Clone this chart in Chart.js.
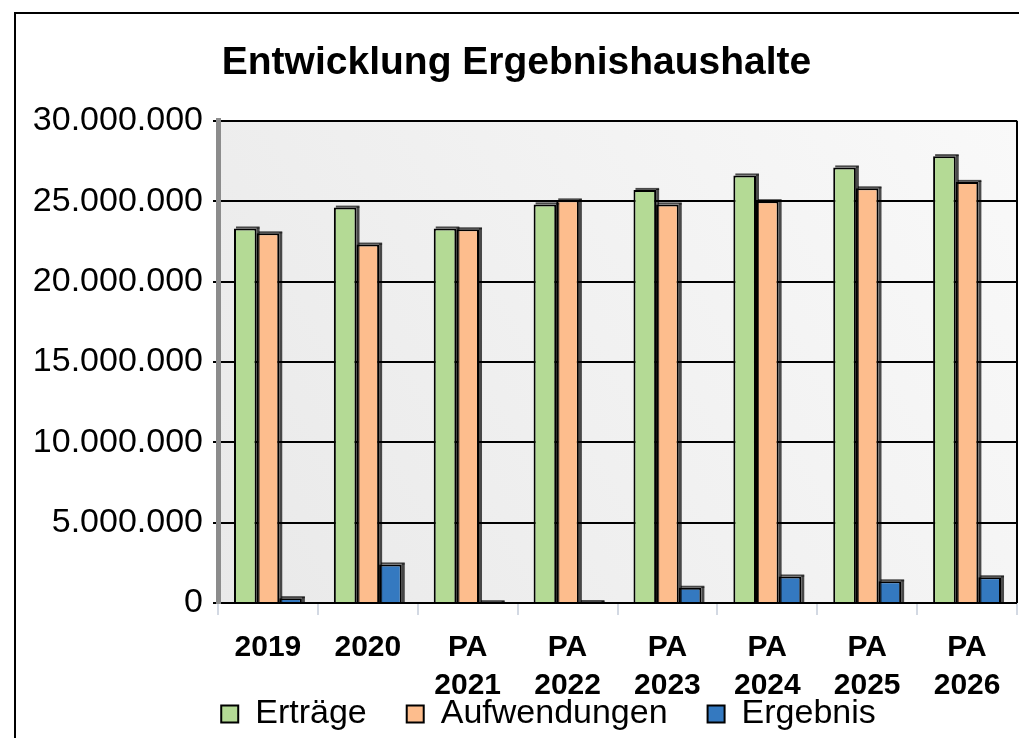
<!DOCTYPE html>
<html>
<head>
<meta charset="utf-8">
<script src="https://cdn.jsdelivr.net/npm/chart.js@4/dist/chart.umd.min.js"></script>
<style>
  html, body { margin: 0; padding: 0; background: #fff; overflow: hidden; }
  #frame {
    position: absolute; left: 14px; top: 12px;
    width: 1005px; height: 726px;
    border-left: 2px solid #000; border-top: 2px solid #000;
  }
  canvas { display: block; }
</style>
</head>
<body>
<div id="frame"><canvas id="chart" width="1003" height="724"></canvas></div>
<script>
// data
const categories = [['2019'], ['2020'], ['PA', '2021'], ['PA', '2022'], ['PA', '2023'], ['PA', '2024'], ['PA', '2025'], ['PA', '2026']];
const ertraege      = [23300000, 24600000, 23300000, 24800000, 25700000, 26600000, 27100000, 27800000];
const aufwendungen  = [23000000, 22300000, 23250000, 25050000, 24800000, 25000000, 25800000, 26200000];
const ergebnis      = [300000, 2400000, 50000, 60000, 950000, 1650000, 1350000, 1600000];
const yTicks = [0, 5000000, 10000000, 15000000, 20000000, 25000000, 30000000];

const fontFam = '"Liberation Sans", Arial, sans-serif';
const legendPad = 40;

function dots(v) {
  return String(v).replace(/\B(?=(\d{3})+(?!\d))/g, '.');
}

// plot background, right border, 3D-ish bar sides, layout nudges
const plotBg = {
  id: 'plotBg',
  afterLayout(chart) {
    const lg = chart.legend;
    // legend text centre at y=700 of the canvas, shifted a bit right
    lg.top = 700 - legendPad - 17;
    lg.bottom = chart.height;
    lg.left += 32;
    lg.right += 32;
    // let the two-line x labels run below their box
    chart.scales.x.bottom = chart.height;
  },
  beforeDraw(chart) {
    const { ctx, chartArea: a } = chart;
    const g = ctx.createLinearGradient(a.left, a.bottom, a.right, a.top);
    g.addColorStop(0, '#e9e9e9');
    g.addColorStop(1, '#f9f9f9');
    ctx.save();
    ctx.fillStyle = g;
    ctx.fillRect(a.left, a.top, a.right - a.left, a.bottom - a.top);
    ctx.restore();
  },
  afterDatasetsDraw(chart) {
    const { ctx } = chart;
    ctx.save();
    ctx.fillStyle = 'rgba(0,0,0,0.7)';
    chart.data.datasets.forEach((ds, i) => {
      chart.getDatasetMeta(i).data.forEach(bar => {
        const h = bar.base - bar.y;
        ctx.fillRect(bar.x + bar.width / 2, bar.y - 1, 3, h + 1);
        ctx.fillRect(bar.x - bar.width / 2 + 2, bar.y - 2, bar.width + 1, 2);
      });
    });
    ctx.restore();
  },
  afterDraw(chart) {
    const { ctx, chartArea: a } = chart;
    ctx.save();
    ctx.strokeStyle = '#000';
    ctx.lineWidth = 2;
    ctx.beginPath();
    ctx.moveTo(a.right, a.top);
    ctx.lineTo(a.right, a.bottom);
    ctx.stroke();
    ctx.restore();
  }
};

const data = {
  labels: categories,
  datasets: [
    { label: 'Erträge', data: ertraege, backgroundColor: '#b4da95', borderColor: '#000', borderWidth: 2 },
    { label: 'Aufwendungen', data: aufwendungen, backgroundColor: '#fdbd8d', borderColor: '#000', borderWidth: 2 },
    { label: 'Ergebnis', data: ergebnis, backgroundColor: '#3479c0', borderColor: '#000', borderWidth: 2 }
  ]
};

const config = {
  type: 'bar',
  data: data,
  plugins: [plotBg],
  options: {
    responsive: false,
    animation: false,
    devicePixelRatio: 1,
    layout: { padding: { left: 0, right: 2, top: 0, bottom: 0 } },
    datasets: {
      bar: { categoryPercentage: 0.68, barPercentage: 1.0 }
    },
    plugins: {
      tooltip: { enabled: false },
      title: {
        display: true,
        text: 'Entwicklung Ergebnishaushalte',
        color: '#000',
        font: { family: fontFam, size: 39, weight: 'bold', lineHeight: 1.2 },
        padding: { top: 26, bottom: 34 }
      },
      legend: {
        position: 'bottom',
        align: 'center',
        labels: {
          color: '#000',
          boxWidth: 17,
          boxHeight: 17,
          padding: legendPad,
          font: { family: fontFam, size: 34 }
        }
      }
    },
    scales: {
      x: {
        offset: true,
        // legend height is 34 + legendPad + 10; chart bottom must land at 589
        afterFit: s => { s.height = 724 - (44 + legendPad) - 589; },
        grid: {
          offset: true,
          drawOnChartArea: false,
          drawTicks: true,
          tickLength: 12,
          color: '#d3d9e3',
          lineWidth: 2
        },
        border: { display: false },
        ticks: {
          color: '#000',
          padding: 14,
          maxRotation: 0,
          autoSkip: false,
          font: { family: fontFam, size: 30, weight: 'bold', lineHeight: 1.27 }
        }
      },
      y: {
        min: 0,
        max: 30000000,
        afterFit: s => { s.width = 202; },
        afterBuildTicks: s => { s.ticks = yTicks.map(v => ({ value: v })); },
        grid: {
          color: '#000',
          lineWidth: 2,
          tickLength: 5,
          tickColor: '#000'
        },
        border: { color: '#8c8c8c', width: 5 },
        ticks: {
          color: '#000',
          padding: 10,
          font: { family: fontFam, size: 34 },
          callback: v => dots(v)
        }
      }
    }
  }
};

const myChart = new Chart(document.getElementById('chart'), config);
</script>
</body>
</html>
